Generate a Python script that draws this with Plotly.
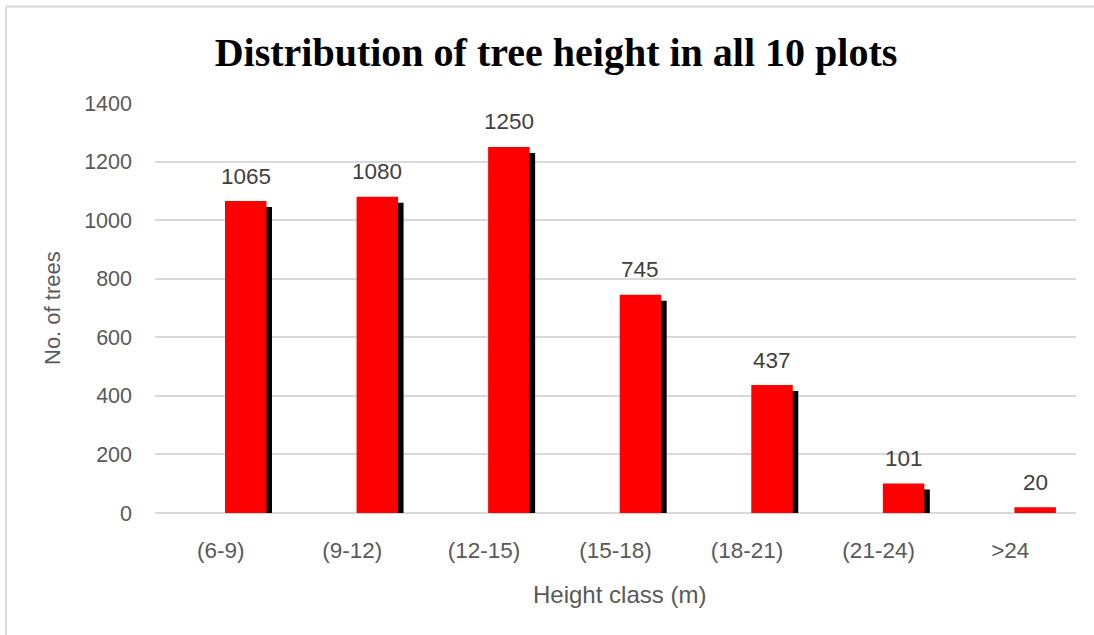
import plotly.graph_objects as go

categories = ["(6-9)", "(9-12)", "(12-15)", "(15-18)", "(18-21)", "(21-24)", ">24"]
counts = [1065, 1080, 1250, 745, 437, 101, 20]
y_ticks = [0, 200, 400, 600, 800, 1000, 1200, 1400]

title_text = "Distribution of tree height in all 10 plots"
x_title = "Height class (m)"
y_title = "No. of trees"

W, H = 1094, 635
L, R, T, B = 155, 18, 103, 122
plot_w = W - L - R
plot_h = H - T - B
y_max = 1400
cat_px = plot_w / len(categories)
unit_px = plot_h / y_max

bar_offset = 4.2 / cat_px
bar_width = 41.5 / cat_px
shadow_dx = 5.5 / cat_px
shadow_dy = 6 / unit_px

grey_text = "#595959"
grid = "#d9d9d9"
sans = "Liberation Sans, Arial"


def px_x(p):
    return (p - L) / plot_w


def px_y(p):
    return (T + plot_h - p) / plot_h


fig = go.Figure()
fig.add_trace(go.Bar(
    x=categories, y=counts, base=[-shadow_dy] * len(counts),
    offset=bar_offset + shadow_dx, width=bar_width,
    marker=dict(color="black", line=dict(width=0)),
    hoverinfo="skip", showlegend=False,
))
fig.add_trace(go.Bar(
    x=categories, y=counts,
    offset=bar_offset, width=bar_width,
    marker=dict(color="#ff0000", line=dict(width=0)),
    showlegend=False,
))

annotations = []
for c, v in zip(categories, counts):
    annotations.append(dict(
        x=c, y=v, xref="x", yref="y", text=str(v), showarrow=False,
        xshift=bar_offset * cat_px + bar_width * cat_px / 2,
        yshift=25, yanchor="middle",
        font=dict(family=sans, size=22.5, color="#404040"),
    ))
annotations.append(dict(
    x=0.5, y=px_y(594), xref="paper", yref="paper",
    xshift=4, text=x_title, showarrow=False, yanchor="middle",
    font=dict(family=sans, size=24, color=grey_text),
))
annotations.append(dict(
    x=px_x(52), y=0.5, xref="paper", yref="paper",
    text=y_title, showarrow=False, textangle=-90, xanchor="center", yanchor="middle",
    font=dict(family=sans, size=22, color=grey_text),
))

border = dict(color=grid, width=2)
fig.update_layout(
    width=W, height=H,
    margin=dict(l=L, r=R, t=T, b=B),
    paper_bgcolor="white", plot_bgcolor="white",
    barmode="overlay",
    title=dict(
        text="<b>" + title_text + "</b>", x=556 / W, xref="container", xanchor="center",
        y=1 - 52 / H, yref="container", yanchor="middle",
        font=dict(family="Liberation Serif, Times New Roman", size=40, color="black"),
    ),
    annotations=annotations,
    shapes=[
        dict(type="line", xref="paper", yref="paper",
             x0=px_x(6), x1=px_x(W), y0=px_y(6.5), y1=px_y(6.5), line=border, layer="below"),
        dict(type="line", xref="paper", yref="paper",
             x0=px_x(6), x1=px_x(6), y0=px_y(6.5), y1=px_y(H), line=border, layer="below"),
    ],
    xaxis=dict(
        type="category", categoryorder="array", categoryarray=categories,
        showgrid=False, showline=False, zeroline=False, ticks="",
        tickfont=dict(family=sans, size=22.5, color=grey_text),
        ticklabelstandoff=21,
    ),
    yaxis=dict(
        range=[0, y_max], tickvals=y_ticks, showgrid=True, gridcolor=grid, gridwidth=1.5,
        zeroline=True, zerolinecolor=grid, zerolinewidth=1.5, showline=False, ticks="",
        tickfont=dict(family=sans, size=21.5, color=grey_text),
        ticklabelstandoff=22,
    ),
)

fig.write_html(
    "out.html",
    config={"displayModeBar": False},
    post_script="document.body.style.margin='0';document.body.style.overflow='hidden';",
)
